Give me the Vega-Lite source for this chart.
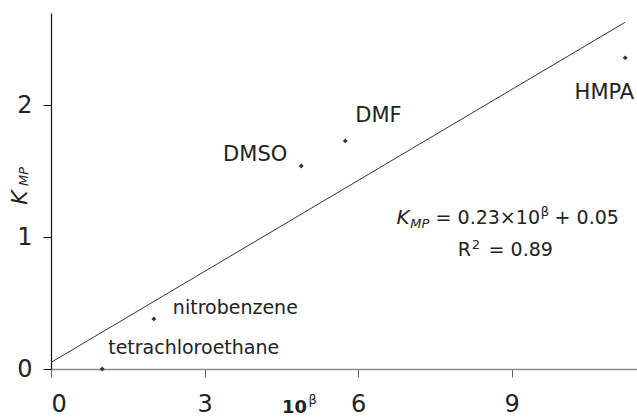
{
  "$schema": "https://vega.github.io/schema/vega-lite/v6.json",
  "width": 586,
  "height": 356,
  "autosize": {"type": "none"},
  "padding": {"left": 51, "top": 13, "right": 0, "bottom": 48},
  "background": "white",
  "config": {
    "view": {"stroke": null},
    "font": "DejaVu Sans",
    "text": {"font": "DejaVu Sans", "color": "#222"}
  },
  "datasets": {
    "points": [
      {"solvent": "tetrachloroethane", "b": 1.0, "k": 0.0},
      {"solvent": "nitrobenzene", "b": 2.01, "k": 0.38},
      {"solvent": "DMSO", "b": 4.89, "k": 1.54},
      {"solvent": "DMF", "b": 5.75, "k": 1.73},
      {"solvent": "HMPA", "b": 11.22, "k": 2.36}
    ],
    "fit": [
      {"b": 0, "k": 0.05},
      {"b": 11.22, "k": 2.63}
    ],
    "notes": [
      {"g": "eqK", "t": "K", "b": 6.75, "k": 1.098},
      {"g": "eqSub", "t": "MP", "b": 7.02, "k": 1.068},
      {"g": "eq", "t": "= 0.23×10", "b": 7.515, "k": 1.098},
      {"g": "eqSup", "t": "β", "b": 9.57, "k": 1.159},
      {"g": "eq", "t": "+ 0.05", "b": 9.84, "k": 1.098},
      {"g": "eq", "t": "R", "b": 7.95, "k": 0.856},
      {"g": "eqSup", "t": "2", "b": 8.22, "k": 0.909},
      {"g": "eq", "t": "= 0.89", "b": 8.55, "k": 0.856},
      {"g": "yK", "t": "K", "b": -0.61, "k": 1.3},
      {"g": "ySub", "t": "MP", "b": -0.53, "k": 1.46},
      {"g": "x10", "t": "10", "b": 4.76, "k": -0.295},
      {"g": "xSup", "t": "β", "b": 5.11, "k": -0.235}
    ]
  },
  "encoding": {
    "x": {
      "field": "b", "type": "quantitative",
      "scale": {"domain": [0, 11.45], "nice": false, "zero": false},
      "axis": {"values": [0, 3, 6, 9], "title": null, "grid": false,
        "domainColor": "#8c8c8c", "domainWidth": 1.5,
        "tickColor": "#666", "tickSize": 8, "tickWidth": 1,
        "labelFontSize": 24, "labelPadding": 15, "labelColor": "#222",
        "labelFont": "DejaVu Sans"}
    },
    "y": {
      "field": "k", "type": "quantitative",
      "scale": {"domain": [0, 2.7], "nice": false, "zero": false},
      "axis": {"values": [0, 1, 2], "title": null, "grid": false,
        "domainColor": "#111", "domainWidth": 1.2,
        "tickColor": "#111", "tickSize": 8, "tickWidth": 1,
        "labelFontSize": 24, "labelPadding": 11, "labelColor": "#222",
        "labelFont": "DejaVu Sans"}
    }
  },
  "layer": [
    {"data": {"name": "fit"}, "mark": {"type": "line", "color": "#333", "strokeWidth": 1}},
    {"data": {"name": "points"}, "mark": {"type": "point", "shape": "diamond", "filled": true, "size": 24, "color": "#333", "opacity": 1}},
    {"data": {"name": "points"}, "transform": [{"filter": "datum.solvent === 'tetrachloroethane'"}],
     "mark": {"type": "text", "align": "left", "baseline": "alphabetic", "dx": 6, "dy": -15, "fontSize": 19},
     "encoding": {"text": {"field": "solvent"}}},
    {"data": {"name": "points"}, "transform": [{"filter": "datum.solvent === 'nitrobenzene'"}],
     "mark": {"type": "text", "align": "left", "baseline": "alphabetic", "dx": 19, "dy": -5, "fontSize": 19},
     "encoding": {"text": {"field": "solvent"}}},
    {"data": {"name": "points"}, "transform": [{"filter": "datum.solvent === 'DMSO'"}],
     "mark": {"type": "text", "align": "right", "baseline": "alphabetic", "dx": -14, "dy": -5, "fontSize": 21},
     "encoding": {"text": {"field": "solvent"}}},
    {"data": {"name": "points"}, "transform": [{"filter": "datum.solvent === 'DMF'"}],
     "mark": {"type": "text", "align": "left", "baseline": "alphabetic", "dx": 10, "dy": -19, "fontSize": 21},
     "encoding": {"text": {"field": "solvent"}}},
    {"data": {"name": "points"}, "transform": [{"filter": "datum.solvent === 'HMPA'"}],
     "mark": {"type": "text", "align": "right", "baseline": "alphabetic", "dx": 9, "dy": 41, "fontSize": 21},
     "encoding": {"text": {"field": "solvent"}}},
    {"data": {"name": "notes"}, "transform": [{"filter": "datum.g === 'eq'"}],
     "mark": {"type": "text", "align": "left", "baseline": "alphabetic", "fontSize": 19},
     "encoding": {"text": {"field": "t"}}},
    {"data": {"name": "notes"}, "transform": [{"filter": "datum.g === 'eqK'"}],
     "mark": {"type": "text", "align": "left", "baseline": "alphabetic", "fontSize": 20, "fontStyle": "italic"},
     "encoding": {"text": {"field": "t"}}},
    {"data": {"name": "notes"}, "transform": [{"filter": "datum.g === 'eqSub'"}],
     "mark": {"type": "text", "align": "left", "baseline": "alphabetic", "fontSize": 13, "fontStyle": "italic"},
     "encoding": {"text": {"field": "t"}}},
    {"data": {"name": "notes"}, "transform": [{"filter": "datum.g === 'eqSup'"}],
     "mark": {"type": "text", "align": "left", "baseline": "alphabetic", "fontSize": 13},
     "encoding": {"text": {"field": "t"}}},
    {"data": {"name": "notes"}, "transform": [{"filter": "datum.g === 'yK'"}],
     "mark": {"type": "text", "align": "center", "baseline": "middle", "angle": 270, "fontSize": 22, "fontStyle": "italic"},
     "encoding": {"text": {"field": "t"}}},
    {"data": {"name": "notes"}, "transform": [{"filter": "datum.g === 'ySub'"}],
     "mark": {"type": "text", "align": "center", "baseline": "middle", "angle": 270, "fontSize": 13, "fontStyle": "italic"},
     "encoding": {"text": {"field": "t"}}},
    {"data": {"name": "notes"}, "transform": [{"filter": "datum.g === 'x10'"}],
     "mark": {"type": "text", "align": "center", "baseline": "middle", "fontSize": 18, "fontWeight": "bold"},
     "encoding": {"text": {"field": "t"}}},
    {"data": {"name": "notes"}, "transform": [{"filter": "datum.g === 'xSup'"}],
     "mark": {"type": "text", "align": "center", "baseline": "middle", "fontSize": 13},
     "encoding": {"text": {"field": "t"}}}
  ]
}
